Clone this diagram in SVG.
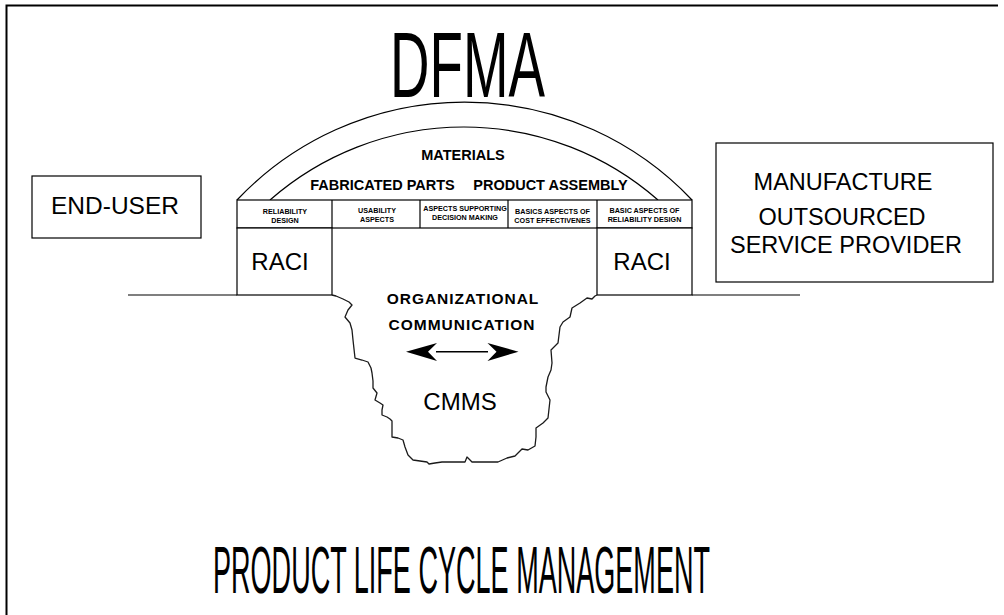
<svg xmlns="http://www.w3.org/2000/svg" width="1004" height="615" viewBox="0 0 1004 615">
  <style>
    .ln { fill: none; stroke: #000; stroke-width: 1.2; }
    .box { fill: #fff; stroke: #000; stroke-width: 1.2; }
    .frame { fill: none; stroke: #000; stroke-width: 2; }
    .reg { font-family: "Liberation Sans", Arial, sans-serif; fill: #000; text-anchor: middle; }
    .bold { font-family: "Liberation Sans", Arial, sans-serif; font-weight: bold; fill: #000; text-anchor: middle; }
    .cell { font-family: "Liberation Sans", Arial, sans-serif; font-weight: bold; font-size: 7.2px; fill: #000; text-anchor: middle; }
    .big { font-family: "Liberation Sans", Arial, sans-serif; fill: #000; }
  </style>

  <rect width="1004" height="615" fill="#fff"/>

  <!-- page frame -->
  <path class="frame" d="M6.5,615 V5.5 H998"/>

  <!-- title -->
  <g id="title-dfma">
    <text class="big" x="390" y="97" font-size="93" textLength="155" lengthAdjust="spacingAndGlyphs">DFMA</text>
  </g>

  <!-- arch over the table -->
  <g id="arch">
    <path class="ln" d="M237,200 A313.2,313.2 0 0 1 692,200"/>
    <path class="ln" d="M270,200 A294.3,294.3 0 0 1 658,200"/>
    <text class="bold" x="463" y="160" font-size="14.5">MATERIALS</text>
    <text class="bold" x="382.5" y="190" font-size="14.5">FABRICATED PARTS</text>
    <text class="bold" x="550.5" y="190" font-size="14.5">PRODUCT ASSEMBLY</text>
  </g>

  <!-- row of design aspects -->
  <g id="aspects">
    <rect class="box" x="237" y="200" width="455" height="28"/>
    <path class="ln" d="M332,200 V228 M420,200 V228 M508,200 V228 M597,200 V228"/>
    <text class="cell" x="285" y="214">RELIABILITY</text>
    <text class="cell" x="285" y="222.5">DESIGN</text>
    <text class="cell" x="377" y="213">USABILITY</text>
    <text class="cell" x="377" y="221.5">ASPECTS</text>
    <text class="cell" x="465" y="211">ASPECTS SUPPORTING</text>
    <text class="cell" x="465" y="219.5">DECISION MAKING</text>
    <text class="cell" x="552.5" y="214">BASICS ASPECTS OF</text>
    <text class="cell" x="552.5" y="222.5">COST EFFECTIVENES</text>
    <text class="cell" x="644.5" y="213">BASIC ASPECTS OF</text>
    <text class="cell" x="644.5" y="221.5">RELIABILITY DESIGN</text>
  </g>

  <!-- pillars -->
  <g id="raci-left">
    <rect class="box" x="237" y="228" width="95" height="67"/>
    <text class="reg" x="280" y="270" font-size="24">RACI</text>
  </g>
  <g id="raci-right">
    <rect class="box" x="597" y="228" width="95" height="67"/>
    <text class="reg" x="642" y="270" font-size="24">RACI</text>
  </g>

  <!-- ground line -->
  <g id="ground">
    <path class="ln" d="M128,295 H237 M692,295 H800"/>
  </g>

  <!-- the gap below the bridge -->
  <g id="cmms">
    <path fill="none" stroke="#1a1a1a" stroke-width="1.3" stroke-linejoin="round"
      d="M332,295 L336,296 L343,299 L349,302 L352,305 L348,310 L345,317 L350,323 L352,330 L353,340 L354,349 L355,358 L362,360 L368,362 L371,368 L372,373 L373,381 L373,388 L377,393 L375,400 L380,403 L383,405 L382,410 L382,415 L387,417 L390,419 L392,421 L392,429 L392,437 L398,438 L403,440 L405,447 L408,455 L413,460 L420,461 L427,462 L429,464 L435,463 L442,462 L450,462 L458,462 L465,462 L467,457 L472,462 L485,462 L498,462 L507,458 L515,456 L519,452 L522,449 L528,450 L535,446 L536,437 L536,428 L543,423 L548,418 L549,409 L550,400 L546,392 L546,387 L548,377 L551,370 L552,363 L551,350 L558,343 L559,335 L560,327 L563,322 L570,317 L572,308 L580,303 L587,298 L592,299 L595,296 L597,295"/>
    <text class="bold" x="463" y="304" font-size="15.5" letter-spacing="0.95">ORGANIZATIONAL</text>
    <text class="bold" x="462" y="330" font-size="15.5" letter-spacing="1">COMMUNICATION</text>
    <text class="reg" x="460" y="410" font-size="24">CMMS</text>
  </g>

  <!-- parties -->
  <g id="end-user">
    <rect class="box" x="32" y="176" width="169" height="62"/>
    <text class="reg" x="115" y="214" font-size="24.5">END-USER</text>
  </g>
  <g id="manufacture">
    <rect class="box" x="716" y="143" width="277" height="139"/>
    <text class="reg" x="843" y="190" font-size="23.5">MANUFACTURE</text>
    <text class="reg" x="842" y="225" font-size="23.5">OUTSOURCED</text>
    <text class="reg" x="846" y="253" font-size="23.5">SERVICE PROVIDER</text>
  </g>

  <!-- bottom title, narrow and tall -->
  <g id="title-plm">
    <text class="big" font-size="66" transform="translate(213,593) scale(0.41,1)">PRODUCT LIFE CYCLE MANAGEMENT</text>
  </g>

  <!-- communication arrow -->
  <g id="connectors">
    <line x1="436" y1="351.7" x2="488" y2="351.7" stroke="#000" stroke-width="1.6"/>
    <path d="M406,351.7 L437,343 L428,351.7 L437,361 Z" fill="#000"/>
    <path d="M518.5,351.7 L487.5,343 L496.5,351.7 L487.5,361 Z" fill="#000"/>
  </g>
</svg>
